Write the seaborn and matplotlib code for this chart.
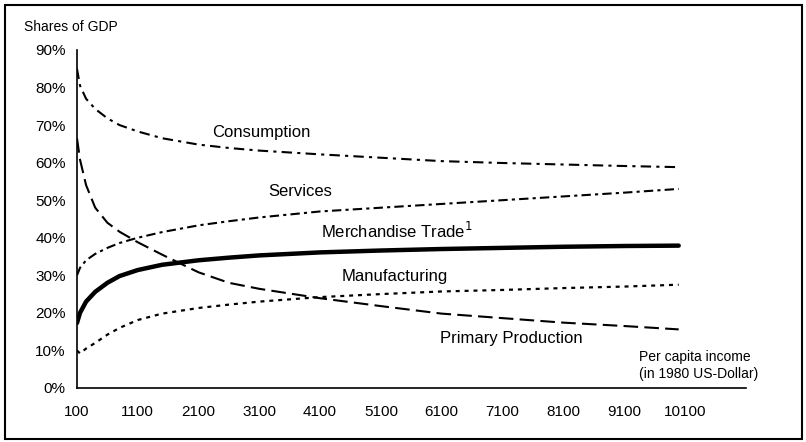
import matplotlib
matplotlib.use("Agg")
import matplotlib.pyplot as plt
import seaborn as sns
import pandas as pd
from matplotlib.patches import Rectangle
from matplotlib.ticker import FuncFormatter, MultipleLocator

income = [100, 150, 250, 400, 600, 800, 1100, 1500, 2100, 2600, 3100, 4100, 5100, 6100, 7100, 8100, 9100, 10000]
consumption = [85, 80.5, 77, 74.3, 71.8, 70, 68.3, 66.5, 64.8, 63.9, 63.2, 62.2, 61.3, 60.4, 59.9, 59.5, 59.1, 58.8]
services = [30, 32, 34, 35.7, 37.3, 38.6, 40, 41.5, 43.3, 44.4, 45.4, 47, 48, 49, 50, 51, 52, 53]
merchandise = [17.3, 20, 23, 25.6, 28, 29.8, 31.4, 32.8, 34, 34.7, 35.3, 36.1, 36.6, 37, 37.3, 37.6, 37.8, 37.9]
manufacturing = [10, 9.2, 10.5, 12, 14.2, 16, 18.1, 19.8, 21.3, 22.2, 23, 24.2, 25, 25.7, 26.1, 26.6, 27, 27.5]
primary = [66.5, 60.8, 54, 48, 44, 41.6, 38.8, 35.5, 30.8, 28, 26.4, 23.9, 21.8, 19.8, 18.6, 17.4, 16.5, 15.6]

x_ticks = list(range(100, 11101, 1000))
x_labels = [str(v) for v in range(100, 10101, 1000)] + [""]

sns.set_style("white")
plt.rcParams["font.family"] = ["Liberation Sans", "DejaVu Sans"]

fig = plt.figure(figsize=(8.06, 4.42), dpi=100)
ax = fig.add_axes([0.0955, 0.1222, 0.8295, 0.7648])

df = pd.DataFrame({"income": income, "Consumption": consumption, "Services": services,
                   "Merchandise": merchandise, "Manufacturing": manufacturing,
                   "Primary": primary})

styles = {
    "Consumption": dict(ls=(0, (5, 2.5, 1.5, 2.5)), lw=1.5),
    "Services": dict(ls=(0, (4.5, 2, 1.5, 2)), lw=1.5),
    "Merchandise": dict(ls="-", lw=3.2),
    "Manufacturing": dict(ls=(0, (1.8, 2.2)), lw=1.6),
    "Primary": dict(ls=(0, (7, 3)), lw=1.5),
}
for name, st in styles.items():
    sns.lineplot(data=df, x="income", y=name, ax=ax, color="black",
                 linestyle=st["ls"], linewidth=st["lw"])

ax.set_xlim(100, 11100)
ax.set_ylim(0, 90)
ax.set_xticks(x_ticks)
ax.set_xticklabels(x_labels)
ax.yaxis.set_major_locator(MultipleLocator(10))
ax.yaxis.set_major_formatter(FuncFormatter(lambda v, p: f"{int(round(v))}%"))
ax.set_xlabel("")
ax.set_ylabel("")
for s in ["top", "right"]:
    ax.spines[s].set_visible(False)
for s in ["left", "bottom"]:
    ax.spines[s].set_color("black")
    ax.spines[s].set_linewidth(1.2)
ax.tick_params(axis="both", direction="inout", length=8, width=1, color="black",
               labelsize=11, labelcolor="black")
ax.tick_params(axis="x", pad=8)
ax.tick_params(axis="y", pad=4)

txt = dict(fontsize=12, color="black")
ax.text(3140, 68, "Consumption", ha="center", va="center", **txt)
ax.text(3770, 52.3, "Services", ha="center", va="center", **txt)
ax.text(5360, 41.9, "Merchandise Trade$^{1}$", ha="center", va="center", **txt)
ax.text(5330, 29.7, "Manufacturing", ha="center", va="center", **txt)
ax.text(7250, 13.3, "Primary Production", ha="center", va="center", **txt)
ax.text(9340, 6.0, "Per capita income\n(in 1980 US-Dollar)", ha="left", va="center",
        fontsize=10, color="black", linespacing=1.3)

fig.text(24 / 806, 1 - 27 / 442, "Shares of GDP", ha="left", va="center", fontsize=10, color="black")

fig.patches.append(Rectangle((5 / 806, 3 / 442), 797 / 806, 434 / 442, transform=fig.transFigure,
                             fill=False, edgecolor="black", linewidth=1.5))

fig.savefig("out.png", dpi=100)
